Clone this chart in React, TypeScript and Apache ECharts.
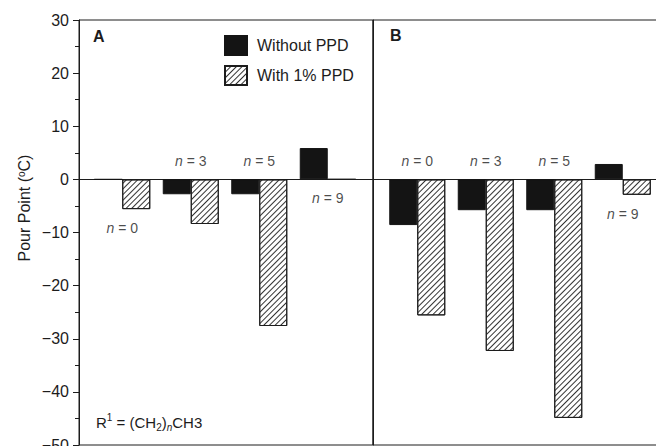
import React, { useEffect, useRef } from "react";
import * as echarts from "echarts";

const categories = ["n = 0", "n = 3", "n = 5", "n = 9"];
const nValues = ["0", "3", "5", "9"];
const withoutA = [0, -2.8, -2.8, 5.9];
const withA = [-5.6, -8.4, -27.6, 0];
const withoutB = [-8.6, -5.8, -5.8, 2.9];
const withB = [-25.6, -32.3, -44.9, -2.9];
const labelSideA = ["below", "above", "above", "below"];
const labelSideB = ["above", "above", "above", "below"];
const yMin = -50;
const yMax = 30;
const yInterval = 10;
const seriesNames = ["Without PPD", "With 1% PPD"];

const FONT = "Liberation Sans, Arial, Helvetica, sans-serif";
const INK = "#1c1c1c";

const hatch = {
  symbol: "rect",
  symbolSize: 1,
  color: "#333",
  dashArrayX: [1, 0],
  dashArrayY: [1, 3],
  rotation: -Math.PI / 4,
};

function labelData(without: number[], withv: number[], sides: string[]) {
  return categories.map((c, i) => {
    const below = sides[i] === "below";
    const anchor = below ? Math.min(0, without[i], withv[i]) : 0;
    return {
      value: [i, anchor],
      label: { offset: [0, below ? 19 : -18] },
    };
  });
}

export default function App() {
  const ref = useRef<HTMLDivElement>(null);
  useEffect(() => {
    if (!ref.current) return;
    const chart = echarts.init(ref.current, undefined, { renderer: "svg" });
    const top = 20;
    const height = 425;
    const frameAxisY = (gi: number, showLabels: boolean) => ({
      type: "value",
      gridIndex: gi,
      min: yMin,
      max: yMax,
      interval: yInterval,
      axisLine: { show: true, lineStyle: { color: INK, width: 1 } },
      axisTick: {
        show: showLabels,
        length: 6,
        lineStyle: { color: INK },
      },
      minorTick: {
        show: showLabels,
        splitNumber: 2,
        length: 4,
        lineStyle: { color: INK },
      },
      splitLine: { show: false },
      axisLabel: {
        show: showLabels,
        fontSize: 16,
        fontFamily: FONT,
        color: INK,
        margin: 10,
        formatter: (v: number) => String(v).replace("-", "\u2212"),
      },
    });
    const hiddenY = (gi: number) => ({
      type: "value",
      gridIndex: gi,
      min: yMin,
      max: yMax,
      interval: yInterval,
      show: false,
    });
    const frameX = (gi: number) => ({
      type: "value",
      gridIndex: gi,
      min: 0,
      max: 1,
      axisLine: { show: true, onZero: true, lineStyle: { color: INK, width: 1 } },
      axisTick: { show: false },
      axisLabel: { show: false },
      splitLine: { show: false },
    });
    const barX = (gi: number) => ({
      type: "category",
      gridIndex: gi,
      data: categories,
      show: false,
    });
    const barSeries = (name: string, ai: number, data: number[], isHatch: boolean) => ({
      type: "bar",
      name,
      xAxisIndex: ai,
      yAxisIndex: ai,
      data,
      barWidth: 28,
      barGap: "0%",
      itemStyle: isHatch
        ? { color: "#ffffff", borderColor: INK, borderWidth: 1, decal: hatch }
        : { color: "#141414", borderColor: "#141414", borderWidth: 1 },
      silent: true,
    });
    const labelSeries = (ai: number, without: number[], withv: number[], sides: string[]) => ({
      type: "scatter",
      xAxisIndex: ai,
      yAxisIndex: ai,
      symbolSize: 0,
      silent: true,
      z: 10,
      data: labelData(without, withv, sides),
      label: {
        show: true,
        position: "inside",
        fontSize: 14,
        fontFamily: FONT,
        color: INK,
        formatter: (p: any) => `{i|n} = ${nValues[p.dataIndex]}`,
        rich: {
          i: { fontStyle: "italic", fontSize: 14, fontFamily: FONT, color: INK },
        },
      },
    });
    const gridBase = { top, height, outerBoundsMode: "none", containLabel: false };
    chart.setOption({
      animation: false,
      backgroundColor: "#ffffff",
      textStyle: { fontFamily: FONT },
      grid: [
        { ...gridBase, left: 79, width: 294, show: true, borderColor: INK, borderWidth: 1, backgroundColor: "transparent" },
        { ...gridBase, left: 373, width: 294, show: true, borderColor: INK, borderWidth: 1, backgroundColor: "transparent" },
        { ...gridBase, left: 88, width: 274 },
        { ...gridBase, left: 383, width: 274 },
      ],
      xAxis: [frameX(0), frameX(1), barX(2), barX(3)],
      yAxis: [frameAxisY(0, true), frameAxisY(1, false), hiddenY(2), hiddenY(3)],
      legend: {
        data: seriesNames,
        orient: "vertical",
        left: 224,
        top: 35,
        itemWidth: 22,
        itemHeight: 19,
        itemGap: 9,
        icon: "rect",
        selectedMode: false,
        padding: 0,
        textStyle: { fontSize: 16, fontFamily: FONT, color: INK, padding: [0, 0, 0, 5] },
      },
      series: [
        barSeries(seriesNames[0], 2, withoutA, false),
        barSeries(seriesNames[1], 2, withA, true),
        barSeries(seriesNames[0], 3, withoutB, false),
        barSeries(seriesNames[1], 3, withB, true),
        labelSeries(2, withoutA, withA, labelSideA),
        labelSeries(3, withoutB, withB, labelSideB),
      ],
      graphic: [
        {
          type: "text",
          left: 93,
          top: 28,
          style: { text: "A", fontSize: 16, fontWeight: "bold", fontFamily: FONT, fill: INK },
        },
        {
          type: "text",
          left: 390,
          top: 27,
          style: { text: "B", fontSize: 16, fontWeight: "bold", fontFamily: FONT, fill: INK },
        },
        {
          type: "text",
          x: 24,
          y: 208,
          rotation: Math.PI / 2,
          style: {
            text: "Pour Point ({sup|o}C)",
            fontSize: 16,
            fontFamily: FONT,
            fill: INK,
            align: "center",
            verticalAlign: "middle",
            rich: {
              sup: { fontSize: 10, verticalAlign: "top", fontFamily: FONT, fill: INK },
            },
          },
        },
        {
          type: "text",
          left: 96,
          top: 412,
          style: {
            text: "R{sup|1} = (CH{sub|2}){subi|n}CH3",
            fontSize: 15,
            fontFamily: FONT,
            fill: INK,
            lineHeight: 20,
            rich: {
              sup: { fontSize: 10, verticalAlign: "top", lineHeight: 20, fontFamily: FONT, fill: INK },
              sub: { fontSize: 10, verticalAlign: "bottom", lineHeight: 20, fontFamily: FONT, fill: INK },
              subi: { fontSize: 10, fontStyle: "italic", verticalAlign: "bottom", lineHeight: 20, fontFamily: FONT, fill: INK },
            },
          },
        },
      ],
    });
    return () => chart.dispose();
  }, []);
  return (
    <div
      ref={ref}
      style={{ position: "fixed", left: 0, top: 0, width: 656, height: 446 }}
    />
  );
}
